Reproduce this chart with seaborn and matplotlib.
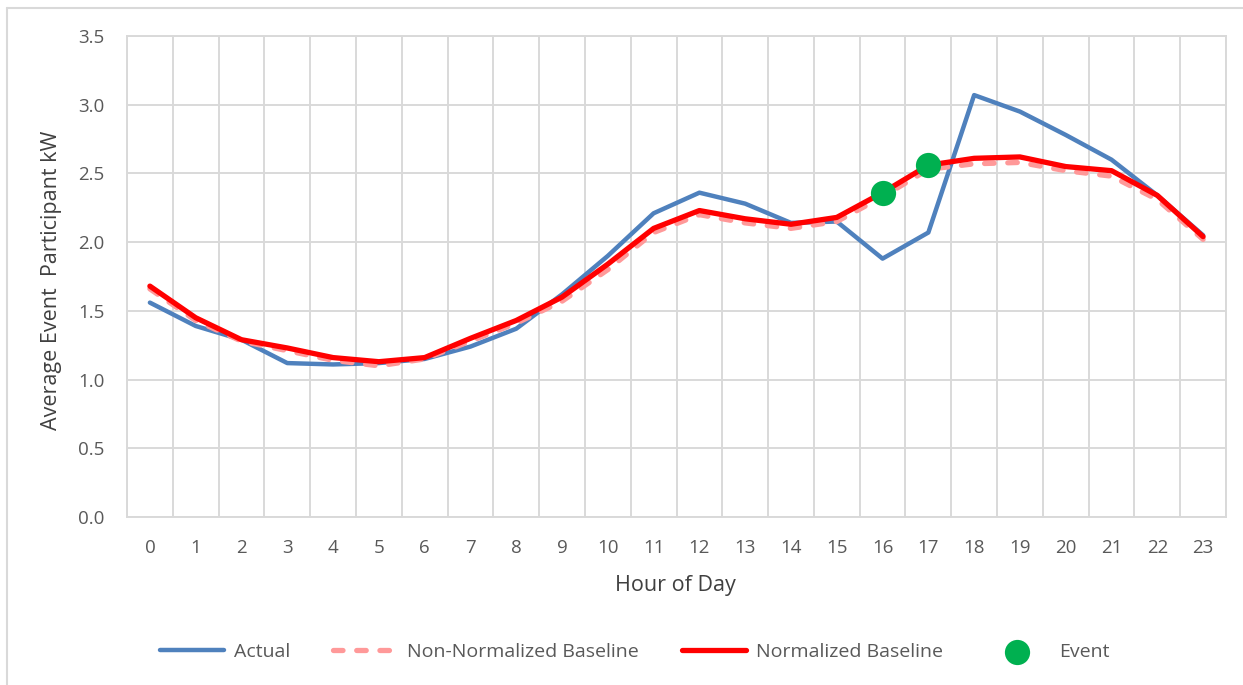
import matplotlib
matplotlib.use("Agg")
import matplotlib.pyplot as plt
from matplotlib.lines import Line2D
from matplotlib.ticker import FixedLocator, FormatStrFormatter
import seaborn as sns
import pandas as pd

# Average hourly load per event participant (kW)
hours = list(range(24))
actual = [1.56, 1.39, 1.29, 1.12, 1.11, 1.12, 1.15, 1.24, 1.37, 1.62, 1.90, 2.21,
          2.36, 2.28, 2.14, 2.15, 1.88, 2.07, 3.07, 2.95, 2.78, 2.60, 2.34, 2.05]
non_normalized = [1.66, 1.43, 1.28, 1.21, 1.14, 1.10, 1.15, 1.28, 1.41, 1.57, 1.80, 2.07,
                  2.20, 2.14, 2.10, 2.15, 2.33, 2.53, 2.57, 2.58, 2.52, 2.48, 2.31, 2.02]
normalized = [1.68, 1.45, 1.29, 1.23, 1.16, 1.13, 1.16, 1.30, 1.43, 1.60, 1.84, 2.10,
              2.23, 2.17, 2.13, 2.18, 2.36, 2.56, 2.61, 2.62, 2.55, 2.52, 2.34, 2.04]
event_hours = [16, 17]
event_kw = [normalized[h] for h in event_hours]

y_ticks = [0.0, 0.5, 1.0, 1.5, 2.0, 2.5, 3.0, 3.5]

series_labels = ["Actual", "Non-Normalized Baseline", "Normalized Baseline", "Event"]

df = pd.DataFrame({"hour": hours, "actual": actual,
                   "non_normalized": non_normalized, "normalized": normalized})
ev = pd.DataFrame({"hour": event_hours, "kw": event_kw})

sns.set_theme(style="white")
plt.rcParams["font.family"] = ["Open Sans", "DejaVu Sans"]

W, H = 1243, 685
fig = plt.figure(figsize=(W / 100, H / 100), dpi=100)
left, right, top, bottom = 127, 1226, 36, 517
ax = fig.add_axes([left / W, 1 - bottom / H, (right - left) / W, (bottom - top) / H])

grid_c = "#D9D9D9"
text_c = "#595959"
title_c = "#404040"

sns.lineplot(data=df, x="hour", y="actual", ax=ax, color="#4F81BD", linewidth=3.2,
             label=series_labels[0], zorder=3, solid_capstyle="round", solid_joinstyle="round")
sns.lineplot(data=df, x="hour", y="non_normalized", ax=ax, color="#FF9999", linewidth=3.8,
             linestyle=(0, (1.8, 2.6)), dash_capstyle="round", dash_joinstyle="round",
             label=series_labels[1], zorder=4)
sns.lineplot(data=df, x="hour", y="normalized", ax=ax, color="#FF0000", linewidth=3.8,
             label=series_labels[2], zorder=5, solid_capstyle="round", solid_joinstyle="round")
sns.scatterplot(data=ev, x="hour", y="kw", ax=ax, color="#00B050", s=330, linewidth=0,
                label=series_labels[3], zorder=6)

ax.set_xlim(-0.5, 23.5)
ax.set_ylim(0, 3.5)
ax.xaxis.set_major_locator(FixedLocator(hours))
ax.xaxis.set_minor_locator(FixedLocator([h - 0.5 for h in hours] + [23.5]))
ax.set_xticklabels([str(h) for h in hours])
ax.yaxis.set_major_locator(FixedLocator(y_ticks))
ax.yaxis.set_major_formatter(FormatStrFormatter("%.1f"))

ax.grid(False)
ax.grid(which="minor", axis="x", color=grid_c, linewidth=1.4)
ax.grid(which="major", axis="y", color=grid_c, linewidth=1.4)
ax.set_axisbelow(True)
for s in ax.spines.values():
    s.set_color(grid_c)
    s.set_linewidth(1.4)

ax.tick_params(axis="both", which="both", length=0, labelsize=13.5, labelcolor=text_c, pad=16)

ax.set_xlabel("Hour of Day", fontsize=15.5, color=title_c)
ax.xaxis.label.set_va("center")
ax.xaxis.set_label_coords((675 - left) / (right - left), (bottom - 586) / (bottom - top))
ax.set_ylabel("Average Event  Participant kW", fontsize=15.5, color=title_c)
ax.yaxis.label.set_va("center")
ax.yaxis.set_label_coords((51 - left) / (right - left), (bottom - 280) / (bottom - top))

handles, labels = ax.get_legend_handles_labels()
ax.legend_.remove()
leg = fig.legend(handles, labels, loc="center", bbox_to_anchor=(635 / W, 1 - 652 / H),
                 ncol=4, frameon=False, fontsize=14, handlelength=3.3,
                 columnspacing=2.2, handletextpad=0.5, markerscale=1.0)
for t in leg.get_texts():
    t.set_color(text_c)

# chart area border (top and left edges)
fig.add_artist(Line2D([7 / W, 7 / W], [0, 1 - 8 / H], transform=fig.transFigure,
                      color=grid_c, linewidth=1.5))
fig.add_artist(Line2D([7 / W, 1], [1 - 8 / H, 1 - 8 / H], transform=fig.transFigure,
                      color=grid_c, linewidth=1.5))

fig.savefig("out.png", dpi=100, facecolor="white")
